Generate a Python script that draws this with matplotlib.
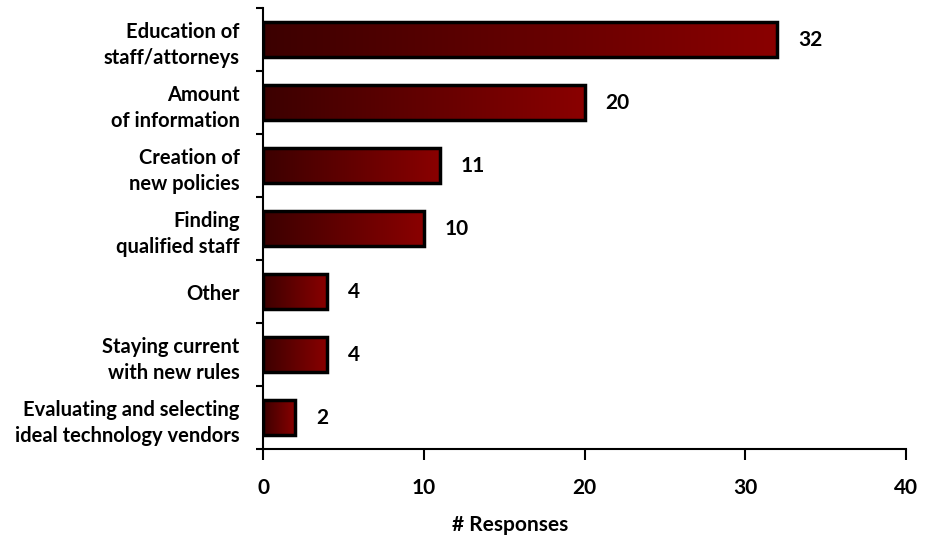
import numpy as np
import matplotlib.pyplot as plt
from matplotlib.colors import LinearSegmentedColormap

categories = ["Education of\nstaff/attorneys", "Amount\nof information", "Creation of\nnew policies",
              "Finding\nqualified staff", "Other", "Staying current\nwith new rules",
              "Evaluating and selecting\nideal technology vendors"]
responses = [32, 20, 11, 10, 4, 4, 2]

plt.rcParams['font.family'] = ['Lato', 'DejaVu Sans']
plt.rcParams['font.weight'] = 'bold'

fig = plt.figure(figsize=(9.35, 5.38), dpi=100)
ax = fig.add_axes([0.2813, 0.1654, 0.6877, 0.8196])

cmap = LinearSegmentedColormap.from_list("redgrad", ["#3c0000", "#8a0000"])
grad = np.linspace(0, 1, 256).reshape(1, -1)
h = 0.55
y = np.arange(len(categories))
for yi, v in zip(y, responses):
    ax.imshow(grad, cmap=cmap, aspect='auto', extent=(0, v, yi + h / 2, yi - h / 2), zorder=2)
    ax.barh(yi, v, height=h, facecolor='none', edgecolor='black', linewidth=2.5, zorder=3)
    ax.annotate(str(v), (v, yi), xytext=(15, 0), textcoords='offset points',
                va='center', ha='left', fontsize=15, fontweight='bold')

ax.set_xlim(0, 40)
ax.set_ylim(len(categories) - 0.5, -0.5)
ax.set_xticks([0, 10, 20, 30, 40])
ax.set_yticks(y)
ax.set_yticklabels(categories, fontsize=14.5, fontweight='bold', linespacing=1.4)
ax.set_yticks(np.arange(-0.5, len(categories)), minor=True)
ax.tick_params(axis='y', which='major', length=0, pad=17)
ax.tick_params(axis='y', which='minor', length=5, width=1.5, direction='out')
ax.tick_params(axis='x', length=8, width=1.5, pad=13, labelsize=15)
for lab in ax.get_xticklabels():
    lab.set_fontweight('bold')
ax.set_xlabel("# Responses", fontsize=15, fontweight='bold')
ax.xaxis.set_label_coords(0.384, -0.15)

for s in ['top', 'right']:
    ax.spines[s].set_visible(False)
for s in ['left', 'bottom']:
    ax.spines[s].set_linewidth(1.5)

fig.savefig("out.png", dpi=100)
